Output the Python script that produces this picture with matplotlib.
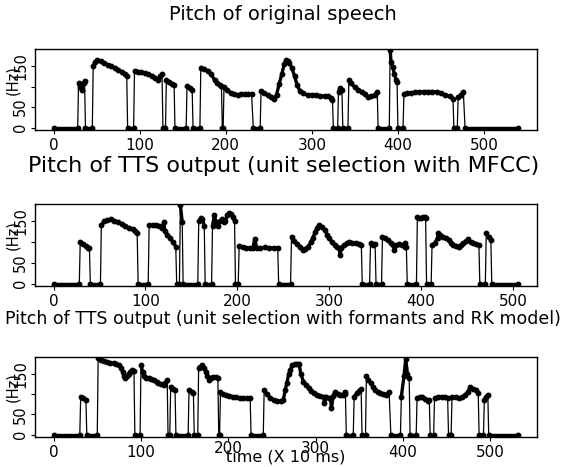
import numpy as np
import matplotlib
matplotlib.use("Agg")
import matplotlib.pyplot as plt
from matplotlib.transforms import ScaledTranslation

# ---------------- data (time in 10 ms frames, pitch in Hz; 0 = unvoiced) -------------
t_orig = [0, 28, 29, 31, 33, 35, 36, 37, 45,
          46, 48, 51, 55, 59, 63, 67, 71, 75, 79, 83, 85, 86, 93,
          94, 98, 102, 106, 110, 114, 118, 121, 124, 126, 127, 130,
          131, 134, 137, 140, 141, 154,
          155, 158, 161, 162, 170,
          171, 175, 179, 183, 187, 190, 193, 195, 196, 197,
          198, 202, 206, 210, 214, 218, 222, 226, 230, 232, 240,
          241, 245, 249, 253, 256, 259, 262, 265, 268, 270, 272, 274, 277, 280, 283, 286,
          290, 295, 300, 305, 310, 315, 319, 322, 324, 325, 330,
          331, 333, 335, 336, 342,
          343, 346, 350, 354, 358, 362, 365, 369, 373, 376, 377, 390,
          391, 392, 394, 396, 398, 399, 400, 406,
          407, 411, 415, 420, 425, 430, 435, 440, 445, 450, 455, 460, 464, 465, 469,
          470, 473, 476, 478, 540]
f_orig = [0, 0, 108, 98, 92, 110, 114, 0, 0,
          150, 160, 165, 162, 157, 153, 150, 145, 141, 135, 130, 126, 0, 0,
          139, 137, 136, 133, 130, 127, 121, 116, 126, 130, 0, 0,
          116, 112, 106, 104, 0, 0,
          101, 96, 92, 0, 0,
          145, 143, 138, 131, 116, 110, 104, 101, 0, 0,
          100, 92, 84, 82, 80, 82, 81, 82, 82, 0, 0,
          89, 84, 79, 75, 71, 80, 106, 130, 155, 165, 163, 158, 145, 125, 104, 90,
          84, 80, 79, 80, 78, 77, 78, 72, 67, 0, 0,
          88, 96, 92, 0, 0,
          116, 108, 98, 92, 88, 82, 75, 76, 80, 88, 0, 0,
          190, 160, 148, 130, 116, 112, 0, 0,
          82, 84, 84, 86, 87, 88, 88, 88, 87, 84, 80, 76, 71, 0, 0,
          75, 80, 88, 0, 0]

t_mfcc = [0, 28, 29, 32, 35, 38, 39, 40, 51,
          52, 55, 58, 62, 66, 70, 74, 78, 82, 86, 89, 91, 92, 103,
          104, 108, 112, 115, 118, 120, 121, 124, 127, 130, 133, 134, 137,
          138, 140, 141, 157,
          158, 160, 162, 164, 165, 172,
          173, 175, 177, 179, 181, 183, 185, 187, 189, 191, 193, 195, 197, 198, 201,
          202, 206, 210, 214, 217, 219, 221, 225, 230, 235, 240, 244, 245, 258,
          259, 262, 265, 268, 271, 274, 277, 280, 282, 285, 287, 289, 292, 295, 298, 300,
          303, 306, 309, 311, 312, 313, 316, 319, 322, 325, 329, 332, 335, 336, 344,
          345, 348, 350, 351, 357,
          358, 361, 364, 367, 370, 371, 373, 376, 379, 382, 383, 384, 385, 395,
          396, 398, 400, 402, 404, 405, 406, 411,
          412, 415, 418, 419, 421, 424, 427, 430, 433, 435, 438, 441, 444, 446, 449, 451,
          454, 457, 460, 463, 464, 470,
          471, 474, 476, 477, 506]
f_mfcc = [0, 0, 101, 96, 90, 86, 85, 0, 0,
          141, 150, 153, 155, 152, 149, 143, 139, 135, 131, 126, 121, 0, 0,
          141, 141, 141, 140, 135, 149, 128, 118, 110, 100, 89, 0, 0,
          190, 149, 0, 0,
          150, 157, 155, 140, 0, 0,
          140, 165, 148, 140, 150, 155, 148, 150, 165, 170, 168, 160, 150, 0, 0,
          90, 87, 85, 85, 86, 108, 86, 86, 87, 86, 86, 86, 0, 0,
          113, 103, 95, 88, 81, 84, 89, 100, 109, 125, 135, 141, 136, 129, 118, 109,
          100, 93, 88, 85, 69, 86, 93, 97, 101, 99, 97, 95, 93, 0, 0,
          97, 93, 95, 0, 0,
          113, 109, 105, 99, 93, 81, 93, 95, 92, 89, 97, 89, 0, 0,
          161, 158, 157, 160, 161, 158, 0, 0,
          93, 97, 110, 121, 117, 113, 109, 105, 99, 93, 90, 89, 93, 97, 102, 107,
          100, 97, 95, 93, 0, 0,
          121, 112, 105, 0, 0]

t_rk = [0, 30, 31, 34, 37, 38, 50,
        51, 54, 58, 61, 65, 69, 72, 75, 77, 79, 81, 82, 84, 86, 88, 90, 92, 93, 99,
        100, 102, 103, 106, 109, 112, 115, 118, 120, 123, 126, 128, 130, 131, 133,
        134, 137, 139, 140, 154,
        155, 158, 160, 161, 165,
        166, 168, 170, 172, 174, 176, 178, 180, 183, 186, 188, 189, 190,
        191, 194, 197, 201, 205, 209, 213, 217, 221, 225, 226, 240,
        241, 244, 248, 252, 256, 260, 263, 265, 267, 269, 271, 273, 276, 279, 281, 283,
        286, 289, 292, 295, 298, 301, 305, 309, 310, 312, 315, 317, 318, 320, 322, 325,
        328, 331, 333, 334, 335, 343,
        344, 347, 350, 352, 353, 357,
        358, 360, 363, 366, 368, 371, 374, 377, 380, 382, 384, 386, 397,
        398, 401, 403, 405, 407, 408, 415,
        416, 419, 422, 425, 428, 430, 431, 435,
        436, 440, 444, 448, 451, 452, 455,
        456, 460, 464, 468, 471, 474, 477, 480, 483, 486, 487, 492,
        493, 495, 497, 498, 532]
f_rk = [0, 0, 94, 90, 86, 0, 0,
        189, 184, 182, 180, 178, 176, 174, 172, 164, 156, 146, 139, 145, 151, 156, 160, 157, 0, 0,
        172, 155, 144, 141, 139, 137, 135, 131, 127, 125, 123, 128, 135, 0, 0,
        118, 113, 110, 0, 0,
        110, 106, 102, 0, 0,
        164, 168, 172, 165, 156, 146, 135, 140, 143, 143, 141, 0, 0,
        106, 100, 98, 96, 94, 92, 91, 90, 90, 90, 0, 0,
        110, 100, 90, 85, 82, 83, 86, 110, 127, 149, 160, 172, 174, 174, 174, 150,
        131, 122, 115, 108, 102, 99, 96, 94, 78, 93, 91, 90, 65, 95, 106, 100,
        98, 98, 106, 100, 0, 0,
        94, 102, 108, 112, 0, 0,
        144, 136, 127, 118, 110, 106, 102, 100, 98, 100, 106, 0, 0,
        94, 144, 186, 151, 140, 0, 0,
        90, 92, 94, 88, 82, 86, 0, 0,
        90, 92, 94, 92, 90, 0, 0,
        94, 92, 90, 92, 98, 106, 118, 113, 110, 104, 0, 0,
        86, 92, 98, 0, 0]

titles = ["Pitch of original speech",
          "Pitch of TTS output (unit selection with MFCC)",
          "Pitch of TTS output (unit selection with formants and RK model)"]
x_ticks = [0, 100, 200, 300, 400, 500]
y_ticks = [0, 50, 100, 150]
y_ticklabels = ["0", "50", "", "150"]
y_label = "(Hz)"
x_label = "time (X 10 ms)"

# ---------------- figure ----------------
W, H = 568, 467
fig = plt.figure(figsize=(W / 100, H / 100), dpi=100)
plt.rcParams['font.family'] = ['DejaVu Sans']

# axes boxes in pixels: (left, top, right, bottom)
boxes = [(35, 49, 537, 130), (35, 204, 537, 286), (35, 357, 537, 437)]
title_y = [15, 166, 319]
title_size = [14, 16, 12.5]
series = [(t_orig, f_orig), (t_mfcc, f_mfcc), (t_rk, f_rk)]


def draw(ax, t, f):
    t = np.asarray(t, dtype=float)
    f = np.asarray(f, dtype=float)
    ax.plot(t, f, color='black', lw=0.9, zorder=2)
    voiced = f > 0
    s = 0
    for i in range(1, len(t) + 1):
        if i == len(t) or voiced[i] != voiced[s]:
            ax.plot(t[s:i], f[s:i], color='black', lw=2.4,
                    solid_capstyle='round', solid_joinstyle='round', zorder=3)
            s = i
    ax.plot(t, f, 'o', color='black', ms=3.2, zorder=4)


axes = []
for k, ((l, tp, r, b), (t, f)) in enumerate(zip(boxes, series)):
    ax = fig.add_axes([l / W, 1 - b / H, (r - l) / W, (b - tp) / H])
    draw(ax, t, f)
    tmax = max(t)
    ax.set_xlim(-0.04 * tmax, 1.04 * tmax)
    ax.set_ylim(-6, 192)
    ax.set_xticks(x_ticks)
    ax.set_xticklabels([str(v) for v in x_ticks], fontsize=11)
    ax.set_yticks(y_ticks)
    ax.set_yticklabels(y_ticklabels, fontsize=10.5, rotation=90, va='center')
    ax.tick_params(axis='both', direction='out', length=3, width=0.8, colors='black')
    ax.tick_params(axis='x', pad=3)
    ax.tick_params(axis='y', pad=2)
    for sp in ax.spines.values():
        sp.set_linewidth(1.0)
        sp.set_color('black')
    ax.set_ylabel(y_label, fontsize=10.5)
    ax.yaxis.set_label_coords(-0.03, 0.62)
    fig.text(0.5 * (l + r) / W - 0.005, 1 - title_y[k] / H, titles[k],
             ha='center', va='center', fontsize=title_size[k])
    axes.append(ax)

# xlabel on the bottom panel, overlapping tick labels as in the reference
axes[2].set_xlabel(x_label, fontsize=11.5, labelpad=-8)
for tick, v in zip(axes[2].xaxis.get_major_ticks(), x_ticks):
    if v in (200, 300):
        tick.label1.set_transform(tick.label1.get_transform() +
                                  ScaledTranslation(0, 4 / 100, fig.dpi_scale_trans))

fig.savefig("out.png", dpi=100)
